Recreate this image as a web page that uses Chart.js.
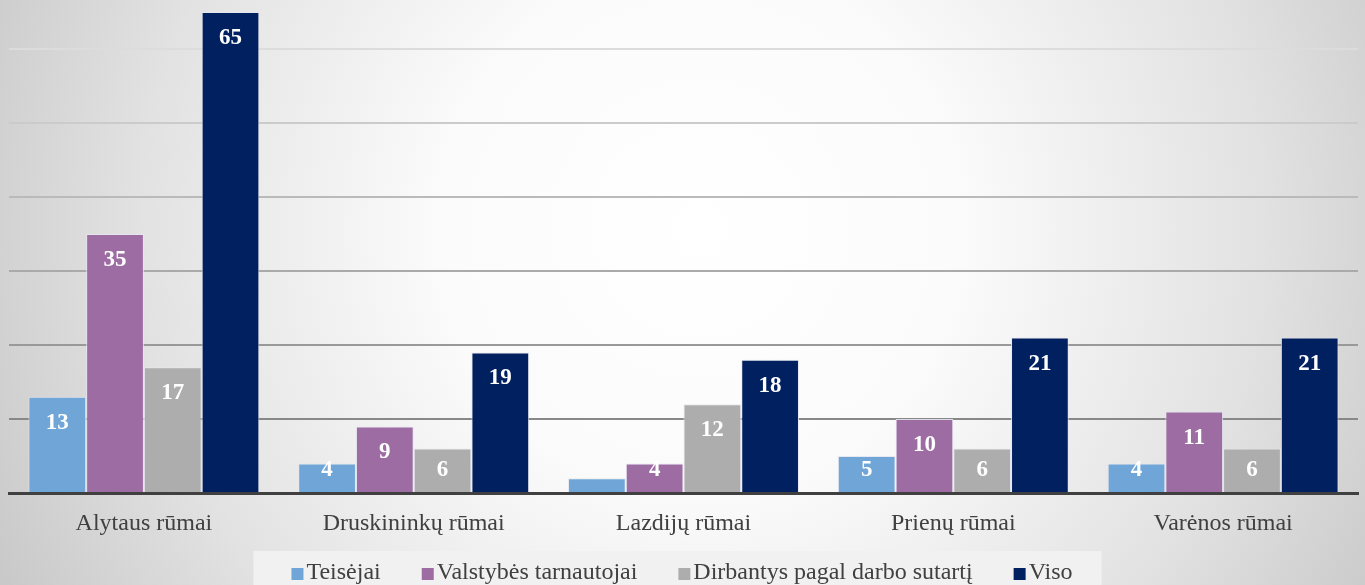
<!DOCTYPE html>
<html>
<head>
<meta charset="utf-8">
<script src="https://cdn.jsdelivr.net/npm/chart.js@4.4.1/dist/chart.umd.min.js"></script>
<style>
  body { margin: 0; }
  #wrap {
    width: 1365px; height: 585px; position: relative;
    background: radial-gradient(circle at 700px 230px, #ffffff 0px, #fbfbfb 260px, #e2e2e2 560px, #c9c9c9 780px);
  }
</style>
</head>
<body>
<div id="wrap"><canvas id="myChart" width="1365" height="585"></canvas></div>
<script>
var categories = ['Alytaus rūmai', 'Druskininkų rūmai', 'Lazdijų rūmai', 'Prienų rūmai', 'Varėnos rūmai'];
var teisejai = [13, 4, 2, 5, 4];
var valstybes = [35, 9, 4, 10, 11];
var dirbantys = [17, 6, 12, 6, 6];
var viso = [65, 19, 18, 21, 21];
var colors = ['#6fa6d7', '#9d6ca3', '#adadad', '#00205f'];

var serif = "'Liberation Serif', 'Times New Roman', serif";

// value labels inside the top of each bar
var barLabels = {
  id: 'barLabels',
  afterDatasetsDraw: function (chart) {
    var c = chart.ctx;
    var base = chart.scales.y.getPixelForValue(0);
    c.save();
    c.font = 'bold 23px ' + serif;
    c.fillStyle = '#ffffff';
    c.textAlign = 'center';
    c.textBaseline = 'middle';
    chart.data.datasets.forEach(function (ds, i) {
      chart.getDatasetMeta(i).data.forEach(function (bar, j) {
        if (base - bar.y < 16) return;
        var y = Math.min(bar.y + 26, base - 23);
        c.fillText(ds.data[j], bar.x, y);
      });
    });
    c.restore();
  }
};

// light box behind the legend + small square markers close to the text
var legendBox = {
  id: 'legendBox',
  beforeDraw: function (chart) {
    var boxes = chart.legend.legendHitBoxes;
    if (!boxes || !boxes.length) return;
    var first = boxes[0], last = boxes[boxes.length - 1];
    var c = chart.ctx;
    c.save();
    c.fillStyle = '#f1f1f1';
    var l = first.left + 12 - 53, r = last.left + last.width + 29;
    c.fillRect(l, 551, r - l, 40);
    c.restore();
  },
  afterDraw: function (chart) {
    var boxes = chart.legend.legendHitBoxes;
    var c = chart.ctx;
    c.save();
    boxes.forEach(function (b, i) {
      c.fillStyle = colors[i];
      c.fillRect(b.left + 12 - 15, b.top + b.height / 2 - 5, 12, 12);
    });
    c.restore();
  }
};

var ctx = document.getElementById('myChart').getContext('2d');
var myChart = new Chart(ctx, {
  type: 'bar',
  data: {
    labels: categories,
    datasets: [{
        label: 'Teisėjai',
        data: teisejai,
        backgroundColor: colors[0]
      }, {
        label: 'Valstybės tarnautojai',
        data: valstybes,
        backgroundColor: colors[1]
      }, {
        label: 'Dirbantys pagal darbo sutartį',
        data: dirbantys,
        backgroundColor: colors[2]
      }, {
        label: 'Viso',
        data: viso,
        backgroundColor: colors[3]
      }
    ]
  },
  options: {
    responsive: false,
    animation: false,
    layout: { padding: { left: 9, right: 7, top: 12, bottom: -10 } },
    datasets: {
      bar: {
        categoryPercentage: 0.856,
        barPercentage: 1.0,
        borderWidth: 1,
        borderColor: 'rgba(230,230,240,0.9)',
        borderSkipped: 'bottom'
      }
    },
    scales: {
      x: {
        grid: { display: false, drawTicks: false },
        border: { display: true, color: '#404040', width: 3 },
        ticks: {
          color: '#404040',
          font: { family: serif, size: 24 },
          padding: 16
        },
        afterFit: function (scale) { scale.height = 60; }
      },
      y: {
        min: 0,
        max: 65,
        afterBuildTicks: function (axis) {
          axis.ticks = axis.ticks.filter(function (t) { return t.value % 10 === 0; });
        },
        ticks: { display: false, stepSize: 10 },
        border: { display: false },
        grid: {
          drawTicks: false,
          lineWidth: 2,
          color: function (c) {
            if (!c.tick || c.tick.value === 0) return 'rgba(0,0,0,0)';
            var g = Math.round(136 + (c.tick.value - 10) / 50 * 84);
            return 'rgb(' + g + ',' + g + ',' + g + ')';
          }
        }
      }
    },
    plugins: {
      tooltip: { enabled: false },
      legend: {
        position: 'bottom',
        labels: {
          color: '#404040',
          font: { family: serif, size: 24 },
          boxWidth: 0,
          padding: 8,
          generateLabels: function (chart) {
            var items = Chart.defaults.plugins.legend.labels.generateLabels(chart);
            return items.map(function (l, i) {
              l.fillStyle = 'rgba(0,0,0,0)';
              l.strokeStyle = 'rgba(0,0,0,0)';
              l.lineWidth = 0;
              if (i < items.length - 1) l.text = l.text + '\u2003\u2002';
              return l;
            });
          }
        }
      }
    }
  },
  plugins: [legendBox, barLabels]
});
</script>
</body>
</html>
